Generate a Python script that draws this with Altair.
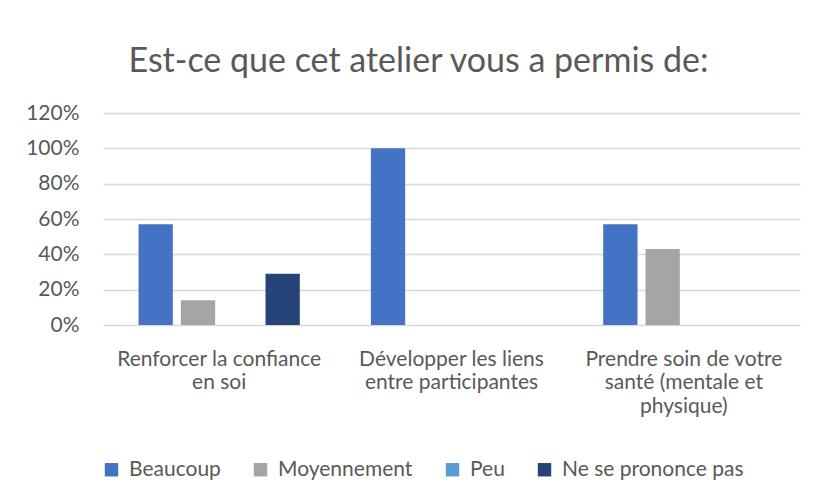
import json
import altair as alt
import pandas as pd

categories = [
    "Renforcer la confiance en soi",
    "Développer les liens entre participantes",
    "Prendre soin de votre santé (mentale et physique)",
]
label_lines = [
    ["Renforcer la confiance", "en soi"],
    ["Développer les liens", "entre participantes"],
    ["Prendre soin de votre", "santé (mentale et", "physique)"],
]
series = ["Beaucoup", "Moyennement", "Peu", "Ne se prononce pas"]
colors = ["#4472C4", "#A5A5A5", "#5B9BD5", "#264478"]

beaucoup = [0.57, 1.00, 0.57]
moyennement = [0.14, 0.00, 0.43]
peu = [0.00, 0.00, 0.00]
ne_se_prononce_pas = [0.29, 0.00, 0.00]

y_ticks = [0, 0.2, 0.4, 0.6, 0.8, 1.0, 1.2]

rows = []
for i, c in enumerate(categories):
    for s, vals in zip(series, [beaucoup, moyennement, peu, ne_se_prononce_pas]):
        rows.append({"categorie": c, "reponse": s, "valeur": vals[i]})
df = pd.DataFrame(rows)

expr = ""
for c, lines in zip(categories, label_lines):
    expr += f"datum.label === {json.dumps(c, ensure_ascii=False)} ? {json.dumps(lines, ensure_ascii=False)} : "
expr += "datum.label"

FONT = "Lato"
TXT = "#595959"
FS = 21

chart = alt.Chart(df).mark_bar().encode(
    x=alt.X(
        "categorie:N",
        sort=categories,
        scale=alt.Scale(paddingInner=0.306, paddingOuter=0.153),
        axis=alt.Axis(
            title=None, labelAngle=0, labelExpr=expr, labelFontSize=FS,
            labelColor=TXT, labelFont=FONT, labelLineHeight=23.5,
            labelPadding=23, ticks=False, domain=False, labelBaseline="top",
            labelLimit=400,
        ),
    ),
    xOffset=alt.XOffset(
        "reponse:N", sort=series,
        scale=alt.Scale(domain=series, paddingInner=0.19, paddingOuter=0),
    ),
    y=alt.Y(
        "valeur:Q",
        scale=alt.Scale(domain=[0, 1.2]),
        axis=alt.Axis(
            values=y_ticks, format=".0%", title=None, labelFontSize=FS,
            labelColor=TXT, labelFont=FONT, labelPadding=24, ticks=False,
            domain=False, gridColor="#D9D9D9", gridWidth=1.3,
        ),
    ),
    color=alt.Color(
        "reponse:N", sort=series,
        scale=alt.Scale(domain=series, range=colors),
        legend=alt.Legend(
            title=None, orient="none", direction="horizontal",
            legendX=-2, legendY=346, symbolType="square", symbolSize=180,
            symbolStrokeWidth=0, labelFontSize=FS, labelColor=TXT,
            labelFont=FONT, columnPadding=29, labelOffset=7, labelLimit=400,
        ),
    ),
).properties(
    width=697,
    height=212,
    autosize="none",
    padding={"left": 95, "top": 105, "right": 5, "bottom": 164},
    title=alt.Title(
        "Est-ce que cet atelier vous a permis de:",
        fontSize=34, font=FONT, color=TXT, fontWeight="normal",
        anchor="middle", dx=-33, offset=23,
    ),
).configure_view(stroke=None)

chart.save("out.html", embed_options={"renderer": "svg", "actions": False})
